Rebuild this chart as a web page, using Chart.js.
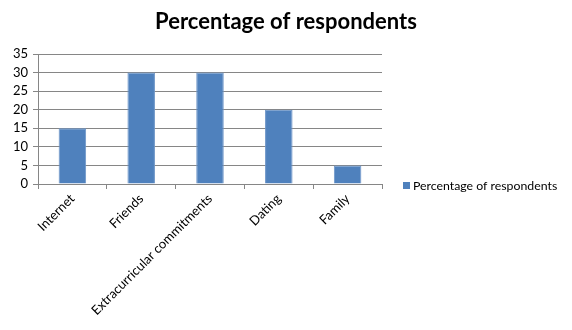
<!DOCTYPE html>
<html>
<head>
<meta charset="utf-8">
<script src="https://cdn.jsdelivr.net/npm/chart.js@4/dist/chart.umd.min.js"></script>
<style>
  html, body { margin: 0; padding: 0; background: #fff; }
  #wrap { width: 572px; height: 330px; }
</style>
</head>
<body>
<div id="wrap"><canvas id="dataChart" width="572" height="330"></canvas></div>
<script>
// Data
const categories = ['Internet', 'Friends', 'Extracurricular commitments', 'Dating', 'Family'];
const percentValues = [15, 30, 30, 20, 5];
const seriesLabel = 'Percentage of respondents';
const yTicks = [0, 5, 10, 15, 20, 25, 30, 35];

const ctx = document.getElementById('dataChart').getContext('2d');
Chart.defaults.font.family = 'Lato, "Open Sans", sans-serif';
Chart.defaults.color = '#000';

// Titel a legenda kreslene rucne, aby sedely jako v Excelu
const excelDecor = {
    id: 'excelDecor',
    afterDraw(chart) {
        const c = chart.ctx;
        const ds = chart.data.datasets[0];
        c.save();
        // titulek pres celou sirku
        c.fillStyle = '#000';
        c.font = 'bold 22px Lato, "Open Sans", sans-serif';
        c.textAlign = 'center';
        c.textBaseline = 'middle';
        c.fillText(ds.label, chart.width / 2, 22);
        // legenda vpravo
        const x = chart.chartArea.right + 21;
        const y = 186;
        c.fillStyle = ds.backgroundColor;
        c.fillRect(x, y - 4, 7, 7);
        c.fillStyle = '#000';
        c.font = '12.3px Lato, "Open Sans", sans-serif';
        c.textAlign = 'left';
        c.fillText(ds.label, x + 10, y);
        c.restore();
    }
};

const dataChart = new Chart(ctx, {
    type: 'bar',
    data: {
        labels: categories,
        datasets: [{
            label: seriesLabel,
            data: percentValues,
            backgroundColor: '#4f81bd',
            borderColor: '#6d95c8',
            borderWidth: 1,
            barPercentage: 0.4,
            categoryPercentage: 1
        }]
    },
    options: {
        responsive: false,
        animation: false,
        layout: { padding: { left: 0, right: 190, top: 54, bottom: 0 } },
        plugins: {
            title: { display: false },
            legend: { display: false },
            tooltip: { enabled: false }
        },
        scales: {
            x: {
                grid: {
                    offset: true,
                    drawOnChartArea: false,
                    drawTicks: true,
                    tickLength: 5,
                    color: '#868686'
                },
                border: { color: '#868686' },
                ticks: {
                    maxRotation: 45,
                    minRotation: 45,
                    font: { size: 13 },
                    padding: 2
                },
                afterFit: function (scale) { scale.height = 146; }
            },
            y: {
                min: 0,
                max: 35,
                afterBuildTicks: function (scale) {
                    scale.ticks = yTicks.map(v => ({ value: v }));
                },
                grid: {
                    color: '#868686',
                    tickLength: 5
                },
                border: { color: '#868686' },
                ticks: {
                    autoSkip: false,
                    font: { size: 13 },
                    padding: 5
                },
                afterFit: function (scale) { scale.width = 38; }
            }
        }
    },
    plugins: [excelDecor]
});
</script>
</body>
</html>
